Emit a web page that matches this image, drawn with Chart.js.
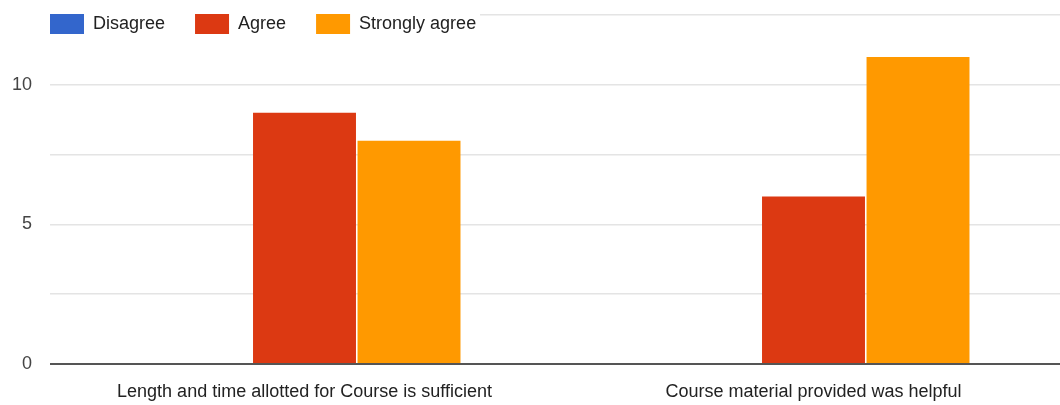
<!DOCTYPE html>
<html>
<head>
<meta charset="utf-8">
<script src="https://cdn.jsdelivr.net/npm/chart.js@4/dist/chart.umd.min.js"></script>
<style>
  html, body { margin: 0; background: #fff; overflow: hidden; }
  #wrap { width: 1068px; height: 405px; position: relative; }
</style>
</head>
<body>
<div id="wrap"><canvas id="surveyChart"></canvas></div>
<script>
const categories = ["Length and time allotted for Course is sufficient", "Course material provided was helpful"];
const disagree = [0, 0];
const agree = [9, 6];
const stronglyAgree = [8, 11];
const yTickLabels = [0, 5, 10];

const FONT = "'Liberation Sans', Arial, sans-serif";

// legend sits over the top gridline with a white backing, like the Google Forms chart
const legendOverlay = {
  id: 'legendOverlay',
  beforeLayout(chart) {
    const lg = chart.legend;
    if (lg && !lg._flat) {
      const fit = lg.fit;
      lg.fit = function () { fit.call(this); this.height = 0; };
      lg._flat = true;
    }
  },
  afterLayout(chart) {
    const lg = chart.legend;
    const pad = lg.options.labels.padding;
    lg.left = 50 - pad;
    lg.top = 14 - pad;
    lg.height = 80;
    lg.bottom = lg.top + lg.height;
  },
  beforeDatasetsDraw(chart) {
    const c = chart.ctx;
    c.save();
    c.fillStyle = '#fff';
    c.fillRect(chart.chartArea.left - 1, 0, 431, 40);
    c.restore();
    chart.legend.draw();
  }
};

const ctx = document.getElementById('surveyChart').getContext('2d');
let chart = new Chart(ctx, {
  type: 'bar',
  data: {
    labels: categories,
    datasets: [
      { label: "Disagree", data: disagree, backgroundColor: "#3366cc" },
      { label: "Agree", data: agree, backgroundColor: "#dc3912" },
      { label: "Strongly agree", data: stronglyAgree, backgroundColor: "#ff9900" }
    ]
  },
  options: {
    responsive: true,
    maintainAspectRatio: false,
    animation: false,
    categoryPercentage: 0.616,
    barPercentage: 0.985,
    layout: { padding: { top: 15, right: 0, bottom: 2, left: 0 } },
    plugins: {
      legend: {
        position: 'top',
        align: 'start',
        labels: {
          boxWidth: 34,
          boxHeight: 20,
          padding: 30,
          color: '#222',
          font: { family: FONT, size: 18 }
        }
      },
      tooltip: { enabled: false }
    },
    scales: {
      x: {
        afterFit(scale) { scale.height = 39; },
        grid: { display: false, drawTicks: false },
        border: { display: false },
        ticks: { padding: 17, color: '#222', font: { family: FONT, size: 18 } }
      },
      y: {
        min: 0,
        max: 12.5,
        afterFit(scale) {
          scale.width = 50;
          scale.paddingTop = 0;
          scale.paddingBottom = 0;
        },
        border: { display: false },
        grid: {
          drawTicks: false,
          color: c => c.tick && c.tick.value === 0 ? '#555' : '#e4e4e4',
          lineWidth: c => c.tick && c.tick.value === 0 ? 2 : 1.5
        },
        ticks: {
          stepSize: 2.5,
          padding: 18,
          color: '#444',
          font: { family: FONT, size: 18 },
          callback: v => yTickLabels.includes(v) ? String(v) : ''
        }
      }
    }
  },
  plugins: [legendOverlay]
});
</script>
</body>
</html>
